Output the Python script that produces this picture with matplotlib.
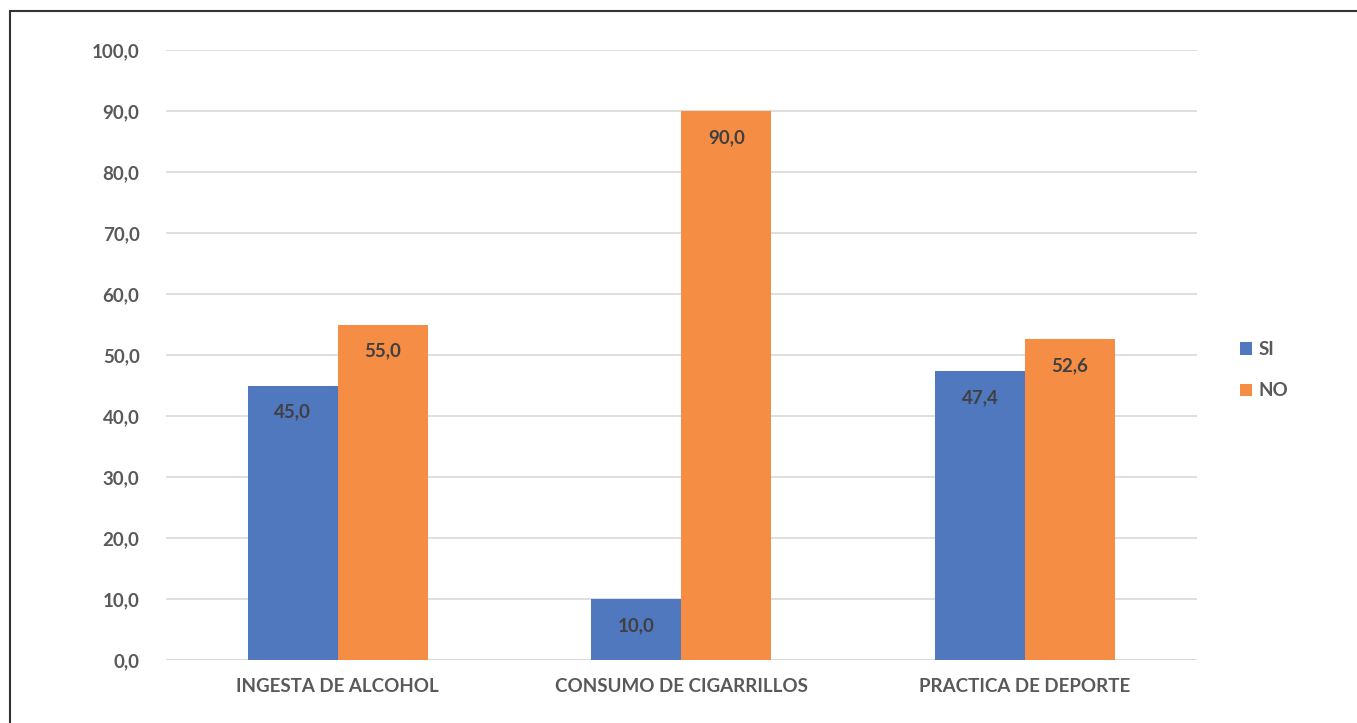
import matplotlib.pyplot as plt
import numpy as np
from matplotlib.patches import Rectangle

categorias = ["INGESTA DE ALCOHOL", "CONSUMO DE CIGARRILLOS", "PRACTICA DE DEPORTE"]
si = [45.0, 10.0, 47.4]
no = [55.0, 90.0, 52.6]
ticks_y = [0, 10, 20, 30, 40, 50, 60, 70, 80, 90, 100]

plt.rcParams['font.family'] = ['Lato', 'DejaVu Sans']

fig = plt.figure(figsize=(13.57, 7.23), dpi=100)
ax = fig.add_axes([0.1223, 0.0871, 0.7597, 0.8437])

x = np.arange(len(categorias))
w = 0.262
b1 = ax.bar(x - w / 2, si, w, color="#4f78bf", label="SI", zorder=3)
b2 = ax.bar(x + w / 2, no, w, color="#f68d45", label="NO", zorder=3)

for bars in (b1, b2):
    for r in bars:
        v = r.get_height()
        ax.annotate(f"{v:.1f}".replace(".", ","),
                    (r.get_x() + r.get_width() / 2, v),
                    xytext=(0, -19), textcoords="offset points",
                    ha="center", va="center", fontsize=13.5,
                    fontweight="bold", color="#404040", zorder=4)

ax.set_xlim(-0.5, 2.5)
ax.set_ylim(0, 100)
ax.set_yticks(ticks_y)
ax.set_yticklabels([f"{t:.1f}".replace(".", ",") for t in ticks_y])
ax.set_xticks(x)
ax.set_xticklabels(categorias)
ax.grid(axis="y", color="#d9d9d9", lw=1.2, zorder=0)
for s in ax.spines.values():
    s.set_visible(False)
ax.axhline(0, color="#d9d9d9", lw=1.2, zorder=2)
ax.tick_params(length=0, colors="#595959", labelsize=13.5)
ax.tick_params(axis="y", pad=19)
ax.tick_params(axis="x", pad=13)
for lab in ax.get_xticklabels() + ax.get_yticklabels():
    lab.set_fontweight("bold")

ax.legend(loc="center left", bbox_to_anchor=(1.025, 0.475), frameon=False,
          handlelength=0.65, handleheight=0.65, handletextpad=0.35,
          labelspacing=1.3, prop={"weight": "bold", "size": 13.5},
          labelcolor="#595959")

# marco exterior
fig.patches.append(Rectangle((10 / 1357, -0.1), 1.2, 1 - 11 / 723 + 0.1,
                             transform=fig.transFigure, fill=False,
                             edgecolor="#333333", lw=1.5))

fig.savefig("out.png", dpi=100)
